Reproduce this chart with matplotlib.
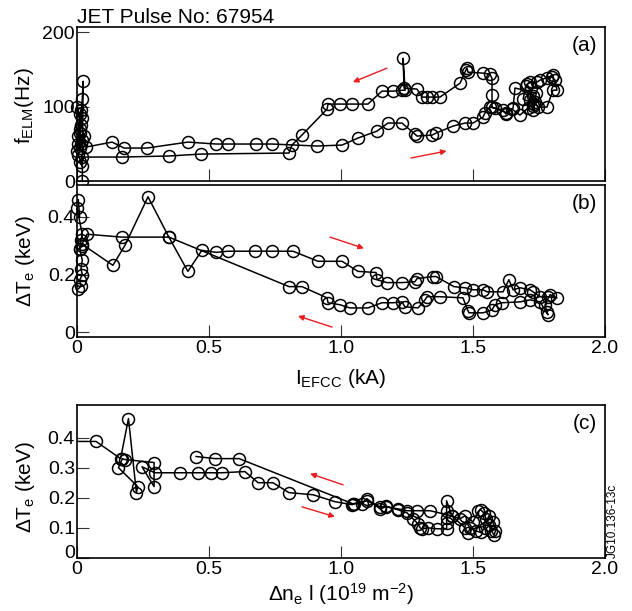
import matplotlib
matplotlib.use('Agg')
import matplotlib.pyplot as plt
import matplotlib.transforms as mtransforms

plt.rcParams['font.family'] = ['Liberation Sans', 'DejaVu Sans']
plt.rcParams['mathtext.fontset'] = 'custom'
plt.rcParams['mathtext.rm'] = 'Liberation Sans'
plt.rcParams['mathtext.it'] = 'Liberation Sans:italic'
plt.rcParams['mathtext.bf'] = 'Liberation Sans:bold'

# ---------------- data ----------------
# panel (a): ELM frequency vs EFCC current (time ordered trajectory)
I_a = [0.005, 0.010, 0.000, 0.015, 0.005, 0.020, 0.010, 0.020, 0.000, 0.015, 0.010, 0.025,
       0.034, 0.133, 0.178, 0.265, 0.420, 0.527, 0.572, 0.678, 0.739, 0.909, 1.004, 1.064,
       1.136, 1.178, 1.231, 1.280, 1.288, 1.345, 1.360, 1.424, 1.470, 1.500, 1.538, 1.545,
       1.564, 1.583, 1.614, 1.625, 1.648, 1.678, 1.708, 1.727, 1.735, 1.746, 1.780,
       1.803, 1.818, 1.811, 1.799, 1.780, 1.803, 1.754, 1.742, 1.716, 1.705, 1.727, 1.727,
       1.716, 1.720, 1.700, 1.690, 1.730, 1.740, 1.659, 1.652, 1.625, 1.572, 1.572, 1.572,
       1.564,
       1.538, 1.481, 1.477, 1.473, 1.451, 1.375, 1.345, 1.326, 1.307, 1.288, 1.239, 1.235,
       1.243, 1.231, 1.197, 1.155, 1.102, 1.042, 0.996, 0.951, 0.947, 0.852, 0.814, 0.803,
       0.470, 0.348, 0.170, 0.019,
       0.010, 0.020, 0.005, 0.015, 0.010, 0.020, 0.023, 0.020]
f_a = [60, 90, 100, 75, 50, 85, 65, 55, 40, 95, 45, 60,
       45.6, 52.3, 44.3, 44.3, 52.3, 49.7, 49.7, 49.7, 49.7, 47, 48.3, 57.7,
       67, 77.9, 77.9, 63, 60.4, 61.7, 64.4, 73.8, 77.9, 77.9, 85.9, 91.3,
       99.3, 98, 95.3, 89.9, 96.6, 88.6, 98, 95.3, 106, 99.3, 99.3,
       122, 122, 135.6, 139.6, 138, 142, 135.6, 133, 133, 130, 114, 100.7,
       108.7, 125, 128, 110, 104, 118, 125, 98, 92, 99.3, 115.4, 138,
       143.6,
       145, 146.3, 151.7, 149, 131.5, 112.8, 112.8, 112.8, 112.8, 123.5, 124.8, 165,
       122, 122, 120.8, 120.8, 103.4, 103.4, 103.4, 103.4, 96.6, 61.7, 48.3, 37.6,
       36.2, 33.6, 32.2, 32.2,
       25, 20, 35, 50, 70, 110, 134, 0]

# panel (b): electron temperature drop vs EFCC current
I_b = [0.005, 0.010, 0.000, 0.020, 0.015, 0.010, 0.020, 0.020,
       0.136, 0.182, 0.269, 0.348, 0.420, 0.473, 0.527, 0.572, 0.674, 0.739, 0.818, 0.913,
       1.004, 1.064, 1.133, 1.136, 1.174, 1.231, 1.280, 1.288, 1.348, 1.360, 1.428, 1.470,
       1.500, 1.538, 1.553, 1.614, 1.636, 1.652, 1.678, 1.716, 1.727, 1.754, 1.784, 1.818,
       1.792, 1.773, 1.780, 1.784,
       1.754, 1.716, 1.678, 1.610, 1.583, 1.572, 1.538, 1.485, 1.481, 1.462, 1.375, 1.326,
       1.318, 1.292, 1.242, 1.231, 1.197, 1.155, 1.102, 1.034, 0.996, 0.951, 0.947, 0.852,
       0.803, 0.348, 0.170, 0.038,
       0.010, 0.020, 0.015, 0.020, 0.010, 0.015, 0.005]
dTe_b = [0.46, 0.40, 0.43, 0.34, 0.32, 0.29, 0.30, 0.305,
         0.232, 0.302, 0.470, 0.330, 0.211, 0.284, 0.277, 0.281, 0.281, 0.281, 0.281, 0.246,
         0.246, 0.211, 0.207, 0.182, 0.172, 0.172, 0.175, 0.186, 0.193, 0.193, 0.158, 0.154,
         0.147, 0.147, 0.140, 0.140, 0.182, 0.147, 0.154, 0.147, 0.140, 0.123, 0.123, 0.119,
         0.130, 0.095, 0.070, 0.060,
         0.105, 0.112, 0.105, 0.102, 0.095, 0.077, 0.067, 0.067, 0.074, 0.119, 0.123, 0.123,
         0.112, 0.084, 0.088, 0.105, 0.102, 0.102, 0.084, 0.084, 0.095, 0.102, 0.119, 0.158,
         0.158, 0.330, 0.330, 0.340,
         0.29, 0.25, 0.22, 0.20, 0.18, 0.16, 0.15]

# panel (c): electron temperature drop vs line integrated density drop
dn_c = [-0.10, 0.072, 0.165, 0.195, 0.225, 0.230, 0.157, 0.172, 0.180, 0.292, 0.292, 0.246,
        0.295, 0.390, 0.459, 0.506, 0.549, 0.636, 0.686, 0.742, 0.803, 0.894, 0.977, 1.042,
        1.050, 1.080, 1.098, 1.148, 1.170, 1.216, 1.250, 1.288, 1.337, 1.420, 1.450, 1.470,
        1.500, 1.520, 1.530, 1.540, 1.550, 1.560, 1.570, 1.580, 1.585, 1.575, 1.560, 1.545,
        1.530, 1.510, 1.490, 1.480, 1.470,
        1.420, 1.400, 1.400, 1.400, 1.400, 1.400, 1.364, 1.330, 1.307, 1.300, 1.292, 1.273,
        1.250, 1.216, 1.170, 1.148, 1.098, 1.045, 0.614, 0.523, 0.451]
dTe_c = [0.387, 0.387, 0.330, 0.463, 0.217, 0.237, 0.300, 0.330, 0.327, 0.317, 0.237, 0.303,
         0.283, 0.283, 0.283, 0.283, 0.283, 0.287, 0.250, 0.250, 0.217, 0.210, 0.187, 0.177,
         0.180, 0.180, 0.197, 0.163, 0.170, 0.163, 0.157, 0.157, 0.157, 0.140, 0.130, 0.140,
         0.120, 0.155, 0.160, 0.150, 0.130, 0.110, 0.090, 0.075, 0.090, 0.120, 0.140, 0.100,
         0.085, 0.090, 0.100, 0.083, 0.100,
         0.140, 0.190, 0.157, 0.133, 0.117, 0.097, 0.097, 0.100, 0.097, 0.100, 0.113, 0.130,
         0.150, 0.160, 0.172, 0.170, 0.190, 0.180, 0.330, 0.330, 0.337]

# red direction arrows: (x_start, y_start, x_end, y_end)
arrows_a = [(1.174, 151.7, 1.045, 132.9), (1.265, 30.9, 1.400, 40.3)]
arrows_b = [(0.958, 0.330, 1.087, 0.291), (0.966, 0.0175, 0.837, 0.056)]
arrows_c = [(1.008, 0.243, 0.883, 0.280), (0.852, 0.170, 0.977, 0.137)]

x_ticks = [0, 0.5, 1.0, 1.5, 2.0]
x_ticklabels = ['0', '0.5', '1.0', '1.5', '2.0']

# ---------------- figure ----------------
W, H = 632, 611
fig = plt.figure(figsize=(W / 100, H / 100), dpi=100)

def px_axes(left, top, right, bottom):
    return fig.add_axes([left / W, 1 - bottom / H, (right - left) / W, (bottom - top) / H])

ax_a = px_axes(77, 27, 605, 181)
ax_b = px_axes(77, 185, 605, 337)
ax_c = px_axes(77, 405, 605, 558)

mk = dict(color='black', lw=1.1, marker='o', ms=8.6, mfc='none', mew=1.1)

ax_a.plot(I_a, f_a, clip_on=False, **mk)
ax_b.plot(I_b, dTe_b, clip_on=False, **mk)
ax_c.plot(dn_c, dTe_c, clip_on=True, **mk)

for ax, arrs in ((ax_a, arrows_a), (ax_b, arrows_b), (ax_c, arrows_c)):
    for x0, y0, x1, y1 in arrs:
        ax.annotate('', xy=(x1, y1), xytext=(x0, y0),
                    arrowprops=dict(arrowstyle='-|>', color='#ee1c1c', lw=1.0,
                                    mutation_scale=8, shrinkA=0, shrinkB=0))

for ax in (ax_a, ax_b, ax_c):
    ax.set_xlim(0, 2.0)
    ax.set_xticks(x_ticks)
    ax.tick_params(direction='in', length=8.5, width=0.8, color='#333333',
                   labelsize=14, top=False, right=False)
    ax.tick_params(axis='x', pad=2.5)
    ax.tick_params(axis='y', pad=1.5)
    for s in ax.spines.values():
        s.set_linewidth(1.2)

ax_a.set_ylim(0, 207)
ax_a.set_yticks([0, 100, 200])
ax_a.set_yticklabels(['0', '100', '200'])
ax_a.set_xticklabels([])

ax_b.set_ylim(-0.017, 0.511)
ax_b.set_yticks([0, 0.2, 0.4])
ax_b.set_yticklabels(['0', '0.2', '0.4'])
ax_b.set_xticklabels(x_ticklabels)

ax_c.set_ylim(0, 0.508)
ax_c.set_yticks([0, 0.1, 0.2, 0.3, 0.4])
ax_c.set_yticklabels(['0', '0.1', '0.2', '0.3', '0.4'])
ax_c.set_xticklabels(x_ticklabels)

# the "0" label of panel (c) sits a little higher, clear of the x labels
zero_lbl = ax_c.get_yticklabels()[0]
zero_lbl.set_transform(zero_lbl.get_transform() +
                       mtransforms.ScaledTranslation(0, 0.06, fig.dpi_scale_trans))

lab = dict(fontsize=15, va='center')
ax_a.set_ylabel(r'f$_{\mathrm{ELM}}$(Hz)', **lab)
ax_b.set_ylabel(r'ΔT$_{\mathrm{e}}$ (keV)', **lab)
ax_c.set_ylabel(r'ΔT$_{\mathrm{e}}$ (keV)', **lab)
ax_a.yaxis.set_label_coords(-0.100, 0.49)
ax_b.yaxis.set_label_coords(-0.097, 0.5)
ax_c.yaxis.set_label_coords(-0.097, 0.465)

ax_b.set_xlabel(r'I$_{\mathrm{EFCC}}$ (kA)', **lab)
ax_b.xaxis.set_label_coords(0.5, -0.27)
ax_c.set_xlabel(r'Δn$_{\mathrm{e}}$ l (10$^{\mathrm{19}}$ m$^{\mathrm{-2}}$)', **lab)
ax_c.xaxis.set_label_coords(0.5, -0.235)

for ax, t in ((ax_a, '(a)'), (ax_b, '(b)'), (ax_c, '(c)')):
    ax.text(0.985, 0.94, t, transform=ax.transAxes, ha='right', va='top', fontsize=15)

fig.text(77 / W, 1 - 23 / H, 'JET Pulse No: 67954', ha='left', va='baseline', fontsize=15)
fig.text(613 / W, 1 - 558 / H, 'JG10.136-13c', rotation=90, ha='center', va='bottom',
         fontsize=8.5)

fig.savefig('out.png', dpi=100)
